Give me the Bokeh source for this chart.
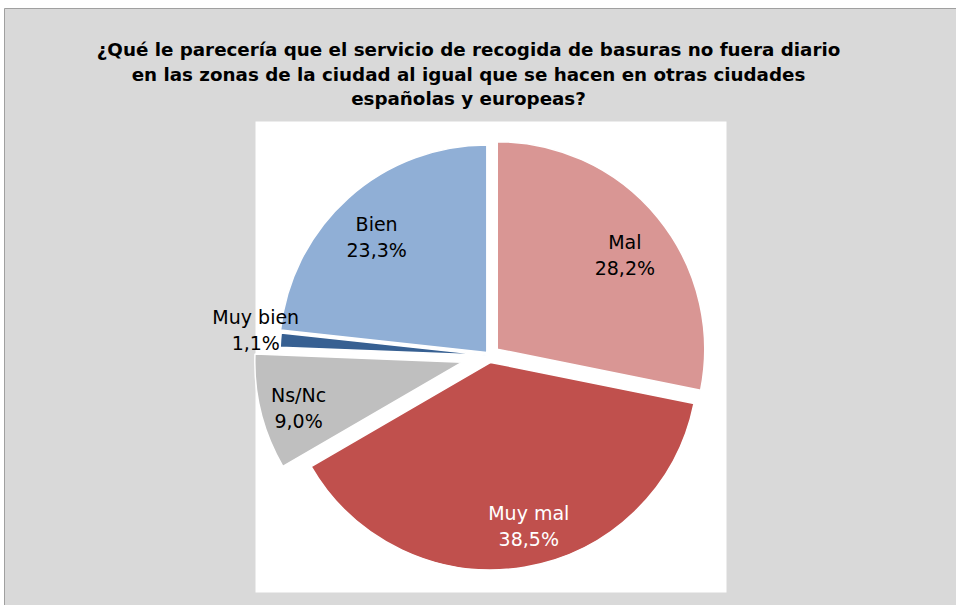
import math
from bokeh.plotting import figure
from bokeh.models import ColumnDataSource, Range1d
from bokeh.core.properties import value
from bokeh.embed import file_html
from bokeh.resources import INLINE

# ---- data ----
categories = ["Mal", "Muy mal", "Ns/Nc", "Muy bien", "Bien"]
percent = [28.2, 38.5, 9.0, 1.1, 23.3]
pct_labels = ["28,2%", "38,5%", "9,0%", "1,1%", "23,3%"]
title_lines = [
    "¿Qué le parecería que el servicio de recogida de basuras no fuera diario",
    "en las zonas de la ciudad al igual que se hacen en otras ciudades",
    "españolas y europeas?",
]

# ---- styles ----
colors = ["#D99694", "#C0504D", "#BFBFBF", "#376092", "#90AFD6"]
text_colors = ["#000000", "#FFFFFF", "#000000", "#000000", "#000000"]
explode = [10, 7, 28, 2, 4]          # px offset of each slice along its bisector
label_dist = [162.6, 161.6, 168.3, 234, 165]
label_nudge_deg = [1.0, -4.3, 0.6, 3.75, 0]

W, H = 956, 605
CX, CY = 489, H - 355   # pie centre (data coords, y up)
R = 207.5

total = sum(percent)
theta0 = []
theta1 = []
acc = 0.0
for v in percent:
    theta0.append(acc / total * 2 * math.pi)
    acc += v
    theta1.append(acc / total * 2 * math.pi)

ax, ay, sa, ea, lx, ly = [], [], [], [], [], []
for i in range(len(percent)):
    tm = (theta0[i] + theta1[i]) / 2
    x0 = CX + explode[i] * math.sin(tm)
    y0 = CY + explode[i] * math.cos(tm)
    ax.append(x0)
    ay.append(y0)
    sa.append(math.pi / 2 - theta1[i])
    ea.append(math.pi / 2 - theta0[i])
    tl = tm + math.radians(label_nudge_deg[i])
    lx.append(x0 + label_dist[i] * math.sin(tl))
    ly.append(y0 + label_dist[i] * math.cos(tl))

src = ColumnDataSource(dict(x=ax, y=ay, sa=sa, ea=ea, color=colors))
lab = ColumnDataSource(dict(
    x=lx + lx,
    y=[v + 6 for v in ly] + [v - 20 for v in ly],
    text=categories + pct_labels,
    color=text_colors + text_colors,
))

p = figure(width=W, height=H, output_backend="svg", toolbar_location=None,
           x_range=Range1d(0, W), y_range=Range1d(0, H),
           min_border=0)
p.axis.visible = False
p.grid.visible = False
p.outline_line_color = None
p.background_fill_color = "white"
p.border_fill_color = "white"

# grey chart area with border on top and left
p.quad(left=[4], right=[W + 2], top=[H - 8], bottom=[-2],
       fill_color="#D9D9D9", line_color="#A0A0A0", line_width=1)

# white plot area
p.quad(left=[255], right=[726], top=[H - 121], bottom=[H - 592],
       fill_color="white", line_color=None)

p.wedge(x="x", y="y", radius=R, start_angle="sa", end_angle="ea",
        fill_color="color", line_color="white", line_width=1.5, source=src)

p.text(x="x", y="y", text="text", text_color="color", source=lab,
       text_font=value("DejaVu Sans"), text_font_size="19px",
       text_align="center", text_baseline="alphabetic")

tsrc = ColumnDataSource(dict(x=[468] * 3, y=[H - 49, H - 73.5, H - 98],
                             text=title_lines))
p.text(x="x", y="y", text="text", source=tsrc, text_color="#000000",
       text_font=value("DejaVu Sans"), text_font_size="18.3px",
       text_font_style="bold", text_align="center", text_baseline="alphabetic")

open("out.html", "w").write(file_html(p, INLINE))
